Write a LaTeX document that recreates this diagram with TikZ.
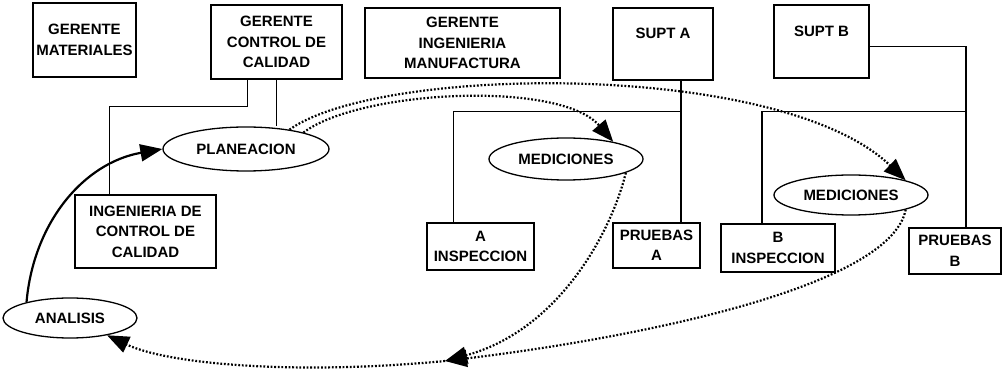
\documentclass[tikz,border=0pt]{standalone}
\usepackage{fontspec}
\setmainfont{Liberation Sans}
\usetikzlibrary{shapes.geometric,arrows.meta}

\begin{document}
\begin{tikzpicture}[x=1pt,y=-1pt,
    orgbox/.style={draw, line width=1.3pt, align=center, inner sep=0pt, font=\fontsize{15}{20.5}\selectfont\bfseries},
    oval/.style={draw, ellipse, line width=1.3pt, inner sep=0pt, font=\fontsize{15}{18}\selectfont\bfseries},
    flow/.style={line width=2.2pt, dash pattern=on 1.8pt off 1.8pt, -{Triangle[length=22pt,width=17pt]}},
    link/.style={line width=1.3pt}]

    \useasboundingbox (0,0) rectangle (1005,379);

    % Top row: managers and superintendents
    \node[orgbox, minimum width=103pt, minimum height=74pt] (gm) at (84.5,40) {GERENTE\\MATERIALES};
    \node[orgbox, minimum width=131pt, minimum height=74pt] (gcc) at (276.5,42) {GERENTE\\CONTROL DE\\CALIDAD};
    \node[orgbox, minimum width=195pt, minimum height=70pt] (gim) at (462.5,43) {GERENTE\\INGENIERIA\\MANUFACTURA};
    \node[orgbox, minimum width=100pt, minimum height=72pt] (supta) at (663,44) {SUPT A\\\mbox{}};
    \node[orgbox, minimum width=95pt, minimum height=73pt] (suptb) at (821.5,41.5) {SUPT B\\\mbox{}};

    % Lower row of boxes
    \node[orgbox, minimum width=141pt, minimum height=73pt] (icc) at (145.5,231.5) {INGENIERIA DE\\CONTROL DE\\CALIDAD};
    \node[orgbox, minimum width=107pt, minimum height=47pt] (ains) at (480.5,246.5) {A\\INSPECCION};
    \node[orgbox, minimum width=87pt, minimum height=45pt] (pra) at (656.5,245.5) {PRUEBAS\\A};
    \node[orgbox, minimum width=114pt, minimum height=48pt] (bins) at (778,248) {B\\INSPECCION};
    \node[orgbox, minimum width=92pt, minimum height=46pt] (prb) at (955,251) {PRUEBAS\\B};

    % Activities (ovals)
    \node[oval, minimum width=166pt, minimum height=44pt] (plan) at (246,149) {PLANEACION};
    \node[oval, minimum width=154pt, minimum height=42pt] (medA) at (566,159) {MEDICIONES};
    \node[oval, minimum width=154pt, minimum height=40pt] (medB) at (851,195) {MEDICIONES};
    \node[oval, minimum width=134pt, minimum height=40pt] (anal) at (70,318) {ANALISIS};

    % Branch points
    \coordinate (ja) at ([xshift=18pt,yshift=-31pt]supta.south);
    \coordinate (jb) at ([xshift=11pt]prb.north);
    \coordinate (junta) at (445,361);

    % Control de calidad lines
    \draw[link] ([xshift=-29pt]gcc.south) -- ++(0,27) -| ([xshift=-36pt]icc.north);
    \draw[link] (gcc.south) -- (gcc.south |- plan.north);

    % Supt A lines
    \draw[link] (supta.south -| ja) -- (pra.north -| ja);
    \draw[link] ([xshift=-27pt]ains.north) |- (ja);

    % Supt B lines
    \draw[link] ([yshift=-5pt]suptb.east) -| (jb);
    \draw[link] ([xshift=-16pt]bins.north) |- (ja -| jb);

    % Cycle: analisis to planeacion
    \draw[line width=2.2pt, -{Triangle[length=22pt,width=17pt]}] (anal.160) to[out=85,in=190] (plan.west);

    % Dotted flows
    \draw[flow] (plan.16) .. controls (360,90) and (560,80) .. (medA.20);
    \draw[flow] (plan.24) .. controls (380,65) and (780,60) .. (medB.15);
    \draw[flow] (medA.-13) .. controls (612,230) and (560,330) .. (junta);
    \draw[flow] (medB.-15) .. controls (890,290) and (620,340) .. (junta);
    \draw[flow] (junta) .. controls (300,375) and (170,365) .. (anal.-25);

\end{tikzpicture}
\end{document}
